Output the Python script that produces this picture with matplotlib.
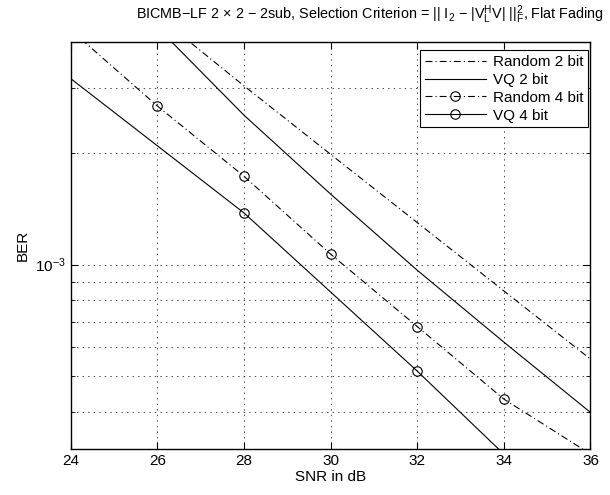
import numpy as np
import matplotlib
matplotlib.use('Agg')
import matplotlib.pyplot as plt
from matplotlib.ticker import LogLocator, NullFormatter, FixedLocator

plt.rcParams['font.family'] = ['Liberation Sans', 'DejaVu Sans']
plt.rcParams['mathtext.default'] = 'regular'
plt.rcParams['lines.scale_dashes'] = False

# BER curves (SNR in dB)
snr = [24, 26, 28, 30, 32, 34, 36]
ber_random2 = [7.28e-3, 4.72e-3, 3.05e-3, 1.99e-3, 1.30e-3, 8.49e-4, 5.55e-4]
ber_vq2 = [7.9e-3, 4.39e-3, 2.54e-3, 1.553e-3, 9.66e-4, 6.17e-4, 3.98e-4]
ber_random4 = [4.32e-3, 2.69e-3, 1.736e-3, 1.068e-3, 6.80e-4, 4.325e-4, 3.07e-4]
snr_vq4 = [20, 28, 32, 36]
ber_vq4 = [7.37e-3, 1.381e-3, 5.15e-4, 1.83e-4]

labels = ['Random 2 bit', 'VQ 2 bit', 'Random 4 bit', 'VQ 4 bit']
xticks = [24, 26, 28, 30, 32, 34, 36]

dashdot = (0, (5, 2.2, 0.8, 2.2))
fs = 11

fig = plt.figure(figsize=(6.1, 4.95), dpi=100)
ax = fig.add_axes([0.1159, 0.0923, 0.968 - 0.1159, 0.9145 - 0.0923])

lw = 0.8
ax.plot(snr, ber_random2, color='k', lw=lw, linestyle=dashdot, label=labels[0])
ax.plot(snr, ber_vq2, color='k', lw=lw, linestyle='-', label=labels[1])
ax.plot(snr, ber_random4, color='k', lw=lw, linestyle=dashdot, marker='o',
        ms=6.8, mfc='none', mec='k', mew=0.8, label=labels[2])
ax.plot(snr_vq4, ber_vq4, color='k', lw=lw, linestyle='-', marker='o',
        ms=6.8, mfc='none', mec='k', mew=0.8, label=labels[3])

ax.set_yscale('log')
ax.set_xlim(24, 36)
ax.set_ylim(10 ** -3.5, 4e-3)
ax.xaxis.set_major_locator(FixedLocator(xticks))
ax.yaxis.set_major_locator(LogLocator(base=10))
ax.yaxis.set_minor_locator(LogLocator(base=10, subs=np.arange(2, 10)))
ax.yaxis.set_minor_formatter(NullFormatter())

ax.grid(True, which='major', color='k', lw=0.5, linestyle=(0, (1, 3)))
ax.grid(True, which='minor', axis='y', color='k', lw=0.5, linestyle=(0, (1, 3)))

ax.tick_params(which='both', direction='in', top=True, right=True, labelsize=fs)
ax.tick_params(which='major', length=5, width=0.8)
ax.tick_params(which='minor', length=3, width=0.6)
for s in ax.spines.values():
    s.set_linewidth(1.0)

ax.set_xlabel('SNR in dB', fontsize=fs, labelpad=1)
ax.set_ylabel('BER', fontsize=fs, labelpad=4)
fig.text(604 / 610, 1 - 15 / 495,
         'BICMB−LF 2 $\\times$ 2 − 2sub, Selection Criterion = || I$_2$ − |V$_L^H$V| ||$_F^2$, Flat Fading',
         fontsize=10.4, ha='right', va='center')

leg = ax.legend(loc='upper right', bbox_to_anchor=(0.995, 0.98), fontsize=fs,
                fancybox=False, edgecolor='k', framealpha=1, handlelength=4.0,
                handletextpad=0.45, labelspacing=0.25, borderpad=0.3,
                borderaxespad=0, numpoints=1)
leg.get_frame().set_linewidth(0.8)

fig.savefig('out.png', dpi=100)
